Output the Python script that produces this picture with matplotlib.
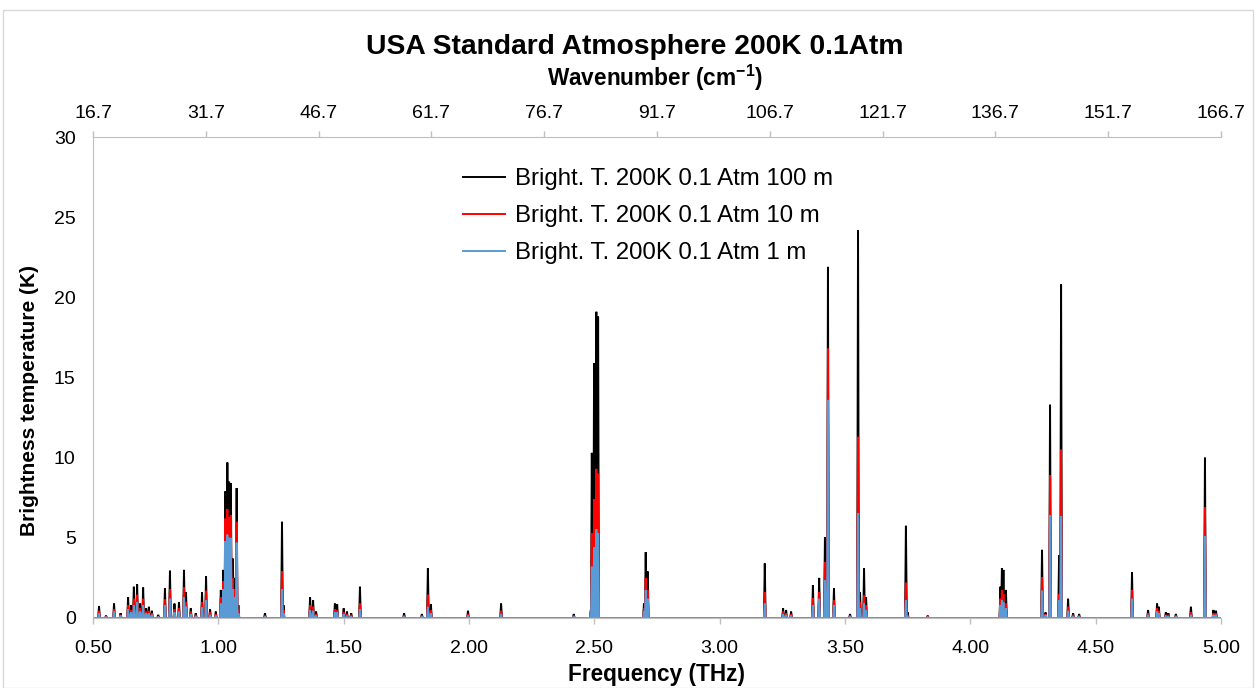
import numpy as np
import matplotlib
matplotlib.use("Agg")
import matplotlib.pyplot as plt
from matplotlib.patches import Rectangle

plt.rcParams['font.family'] = ['Liberation Sans', 'DejaVu Sans']

# ---------------- data ----------------
freq_thz = [0.524, 0.552, 0.584, 0.61, 0.64, 0.652, 0.663, 0.676, 0.688, 0.70,
            0.712, 0.723, 0.735, 0.76, 0.787, 0.807, 0.825, 0.843, 0.863, 0.871,
            0.89, 0.91, 0.935, 0.951, 0.967, 0.99, 1.01, 1.02, 1.028, 1.036,
            1.043, 1.05, 1.058, 1.066, 1.073, 1.08, 1.186, 1.254, 1.26, 1.366,
            1.378, 1.39, 1.465, 1.474, 1.50, 1.513, 1.53, 1.565, 1.741, 1.812,
            1.836, 1.848, 1.996, 2.128, 2.418, 2.486, 2.49, 2.499, 2.508, 2.515,
            2.698, 2.705, 2.713, 3.18, 3.253, 3.265, 3.285, 3.372, 3.397, 3.42,
            3.432, 3.456, 3.52, 3.552, 3.56, 3.576, 3.584, 3.743, 3.75, 3.83,
            4.12, 4.126, 4.132, 4.142, 4.286, 4.30, 4.318, 4.354, 4.362, 4.39,
            4.41, 4.434, 4.645, 4.709, 4.745, 4.752, 4.78, 4.79, 4.82, 4.88,
            4.936, 4.97, 4.98]

bt_100m = [0.75, 0.15, 0.9, 0.3, 1.3, 0.8, 1.95, 2.1, 0.9, 1.9,
           0.6, 0.7, 0.45, 0.2, 1.85, 2.95, 0.9, 1.0, 3.0, 1.6,
           0.6, 0.3, 1.6, 2.6, 0.55, 0.4, 1.75, 3.0, 7.9, 9.7,
           8.5, 8.4, 3.7, 2.5, 8.1, 0.8, 0.3, 6.0, 0.8, 1.3,
           1.1, 0.4, 0.9, 0.85, 0.6, 0.4, 0.3, 1.95, 0.3, 0.25,
           3.1, 0.85, 0.45, 0.9, 0.25, 0.5, 10.3, 15.9, 19.1, 18.8,
           0.9, 4.1, 2.9, 3.4, 0.6, 0.5, 0.4, 2.05, 2.5, 5.05,
           21.9, 1.85, 0.25, 24.2, 1.6, 3.1, 1.3, 5.75, 0.35, 0.15,
           1.95, 3.1, 3.0, 1.75, 4.25, 0.35, 13.3, 3.9, 20.8, 1.2,
           0.3, 0.25, 2.85, 0.5, 0.9, 0.7, 0.35, 0.3, 0.25, 0.7,
           10.0, 0.5, 0.45]

bt_10m = [0.45, 0.1, 0.55, 0.2, 0.8, 0.5, 1.2, 1.45, 0.6, 1.2,
          0.4, 0.45, 0.3, 0.1, 1.15, 1.8, 0.55, 0.6, 1.9, 1.0,
          0.4, 0.2, 1.0, 1.7, 0.35, 0.25, 1.3, 2.3, 6.2, 6.8,
          6.3, 6.4, 2.5, 1.8, 6.0, 0.5, 0.15, 2.9, 0.5, 0.8,
          0.7, 0.25, 0.55, 0.5, 0.35, 0.25, 0.2, 0.9, 0.15, 0.15,
          1.45, 0.5, 0.25, 0.45, 0.15, 0.4, 5.3, 7.4, 9.3, 9.0,
          0.6, 2.5, 1.75, 1.6, 0.4, 0.3, 0.25, 1.25, 1.6, 3.5,
          16.8, 1.1, 0.15, 11.3, 1.0, 1.4, 0.8, 2.2, 0.2, 0.1,
          1.2, 1.75, 1.5, 0.9, 2.55, 0.25, 8.9, 1.5, 10.5, 0.7,
          0.2, 0.15, 1.75, 0.3, 0.6, 0.45, 0.2, 0.2, 0.15, 0.35,
          6.9, 0.3, 0.3]

bt_1m = [0.3, 0.05, 0.4, 0.15, 0.55, 0.35, 0.8, 1.0, 0.4, 0.8,
         0.3, 0.3, 0.2, 0.05, 0.8, 1.2, 0.35, 0.4, 1.3, 0.7,
         0.25, 0.1, 0.65, 1.1, 0.2, 0.15, 0.9, 1.8, 4.8, 5.2,
         5.0, 5.0, 1.8, 1.3, 4.7, 0.3, 0.1, 1.8, 0.3, 0.5,
         0.45, 0.15, 0.35, 0.35, 0.25, 0.15, 0.1, 0.55, 0.1, 0.1,
         0.7, 0.3, 0.15, 0.25, 0.1, 0.3, 3.2, 4.4, 5.55, 5.3,
         0.4, 1.75, 1.2, 0.9, 0.25, 0.2, 0.15, 0.8, 1.2, 2.35,
         13.6, 0.8, 0.1, 6.55, 0.6, 0.9, 0.5, 1.1, 0.1, 0.05,
         0.8, 1.1, 1.0, 0.6, 1.7, 0.2, 6.4, 1.1, 6.35, 0.45,
         0.1, 0.1, 1.2, 0.2, 0.4, 0.3, 0.15, 0.1, 0.1, 0.2,
         5.1, 0.2, 0.2]

series_labels = ["Bright. T. 200K 0.1 Atm 100 m",
                 "Bright. T. 200K 0.1 Atm 10 m",
                 "Bright. T. 200K 0.1 Atm 1 m"]
freq_ticks = [0.50, 1.00, 1.50, 2.00, 2.50, 3.00, 3.50, 4.00, 4.50, 5.00]
wavenumber_ticks = [16.7, 31.7, 46.7, 61.7, 76.7, 91.7, 106.7, 121.7, 136.7, 151.7, 166.7]
y_ticks = [0, 5, 10, 15, 20, 25, 30]

# ---------------- helpers ----------------
F_MIN, F_MAX = 0.5, 5.0


def spike_path(f, h, half=0.0034):
    f = np.asarray(f, float)
    h = np.asarray(h, float)
    o = np.argsort(f)
    f, h = f[o], h[o]
    x = np.column_stack([f - half, f, f + half]).ravel()
    y = np.column_stack([np.zeros_like(h), h, np.zeros_like(h)]).ravel()
    x = np.concatenate([[F_MIN], x, [F_MAX]])
    y = np.concatenate([[0.0], y, [0.0]])
    return x, y


W0 = wavenumber_ticks[0]
W_SCALE = (wavenumber_ticks[-1] - wavenumber_ticks[0]) / (F_MAX - F_MIN)


def f2w(f):
    return W0 + (np.asarray(f) - F_MIN) * W_SCALE


def w2f(w):
    return F_MIN + (np.asarray(w) - W0) / W_SCALE


# ---------------- figure ----------------
W, H = 1255, 688
fig = plt.figure(figsize=(W / 100, H / 100), dpi=100)
fig.patches.append(Rectangle((3 / W, 0), (W - 5) / W, (H - 10) / H,
                             transform=fig.transFigure, fill=False,
                             edgecolor='#D9D9D9', linewidth=1.0))

ax = fig.add_axes([93 / W, (H - 618) / H, (1221 - 93) / W, (618 - 137) / H])

colors = ['#000000', '#FF0000', '#5B9BD5']
for vals, lab, c in zip([bt_100m, bt_10m, bt_1m], series_labels, colors):
    x, y = spike_path(freq_thz, vals)
    ax.plot(x, y, color=c, lw=1.4, label=lab, solid_joinstyle='miter')

ax.set_xlim(F_MIN, F_MAX)
ax.set_ylim(0, 30)
ax.set_xticks(freq_ticks)
ax.set_xticklabels([f"{t:.2f}" for t in freq_ticks])
ax.set_yticks(y_ticks)

grey = '#BFBFBF'
for s in ['right', 'top']:
    ax.spines[s].set_visible(False)
ax.spines['left'].set_color(grey)
ax.spines['bottom'].set_color(grey)
ax.tick_params(axis='x', direction='out', length=4, width=1, color=grey,
               labelsize=14, pad=11.5, labelcolor='#000000')
ax.tick_params(axis='y', length=0, labelsize=14, pad=12.5, labelcolor='#000000')

sec = ax.secondary_xaxis('top', functions=(f2w, w2f))
sec.set_xticks(wavenumber_ticks)
sec.set_xticklabels([f"{t:.1f}" for t in wavenumber_ticks])
sec.spines['top'].set_color(grey)
sec.tick_params(axis='x', direction='out', length=4, width=1, color=grey,
                labelsize=14, pad=7)


def px(xp, yp):
    return xp / W, 1 - yp / H


fig.text(*px(635, 47), "USA Standard Atmosphere 200K 0.1Atm",
         ha='center', va='center', fontsize=20.3, fontweight='bold')
fig.text(*px(655, 78), "Wavenumber (cm$^{\\mathregular{-1}}$)",
         ha='center', va='center', fontsize=16.3, fontweight='bold')
fig.text(*px(657, 675), "Frequency (THz)",
         ha='center', va='center', fontsize=16.3, fontweight='bold')
fig.text(*px(30, 401), "Brightness temperature (K)", rotation=90,
         ha='center', va='center', fontsize=15, fontweight='bold')

ax.legend(loc='upper left', bbox_to_anchor=px(463, 168),
          bbox_transform=fig.transFigure, frameon=False, fontsize=17.3,
          handlelength=1.75, handletextpad=0.42, labelspacing=0.63,
          borderpad=0, borderaxespad=0)

fig.savefig("out.png", dpi=100)
